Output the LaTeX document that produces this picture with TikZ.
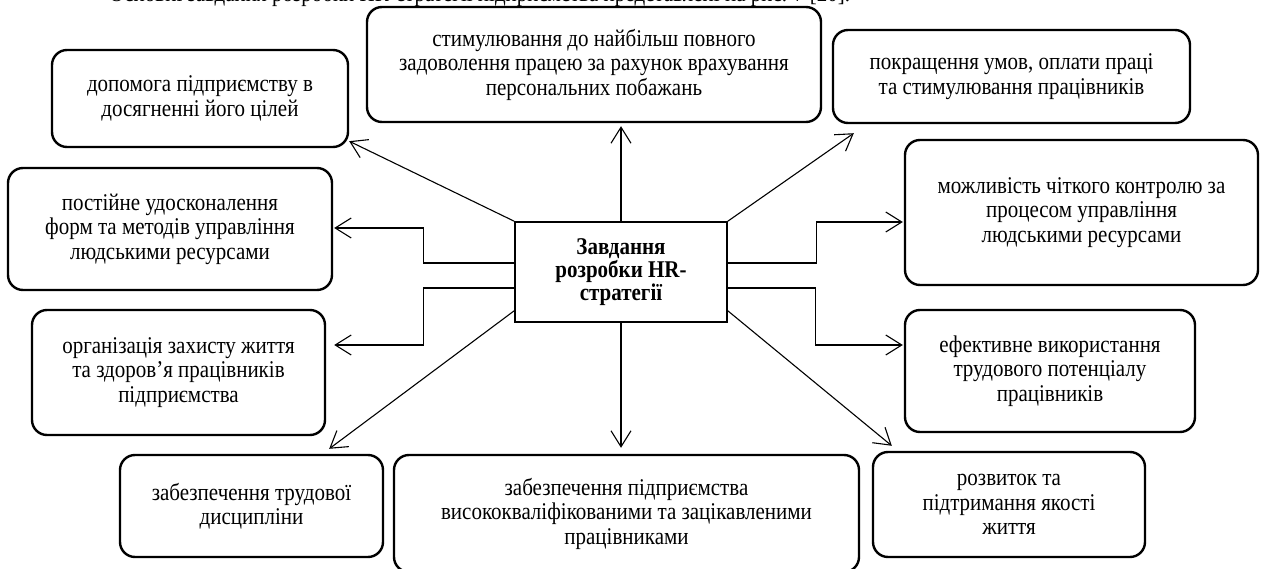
\documentclass[tikz,border=0pt]{standalone}
\usepackage{fontspec}
\setmainfont{Liberation Serif}[FakeStretch=0.875]
\usetikzlibrary{arrows.meta,calc}
\begin{document}
\begin{tikzpicture}[x=1pt,y=-1pt,
  box/.style={draw,line width=2.4pt,rounded corners=15pt,align=center,inner sep=0pt,font=\fontsize{24}{24.5}\selectfont},
  hubbox/.style={draw,line width=1.5pt,align=center,inner sep=0pt,font=\fontsize{24}{23}\selectfont\bfseries},
  conn/.style={line width=1.1pt,-{Straight Barb[length=16pt,width=20pt]}}]
\useasboundingbox[fill=white] (0,0) rectangle (1262,569);
\node[anchor=base west,inner sep=0pt,font=\fontsize{24}{24}\selectfont] (cap) at (109,1.5) {Основні завдання розробки HR-стратегії підприємства представлені на рис. 7 [20].};
\node[hubbox,minimum width=212pt,minimum height=100pt] (hub) at (621,272) {Завдання\\розробки HR-\\стратегії};
\node[box,minimum width=296pt,minimum height=97pt] (a) at (200,98.5) {допомога підприємству в\\досягненні його цілей};
\node[box,minimum width=454pt,minimum height=115pt] (b) at (594,64.5) {стимулювання до найбільш повного\\задоволення працею за рахунок врахування\\персональних побажань};
\node[box,minimum width=357pt,minimum height=93pt] (cc) at (1011.5,76.5) {покращення умов, оплати праці\\та стимулювання працівників};
\node[box,minimum width=324pt,minimum height=122pt] (d) at (170,229) {постійне удосконалення\\форм та методів управління\\людськими ресурсами};
\node[box,minimum width=353pt,minimum height=145pt] (e) at (1081.5,212.5) {можливість чіткого контролю за\\процесом управління\\людськими ресурсами};
\node[box,minimum width=293pt,minimum height=125pt] (f) at (178.5,372.5) {організація захисту життя\\та здоров’я працівників\\підприємства};
\node[box,minimum width=290pt,minimum height=122pt] (g) at (1050,371) {ефективне використання\\трудового потенціалу\\працівників};
\node[box,minimum width=263pt,minimum height=102pt] (h) at (251.5,506) {забезпечення трудової\\дисципліни};
\node[box,minimum width=465pt,minimum height=117pt] (i) at (626.5,513.5) {забезпечення підприємства\\висококваліфікованими та зацікавленими\\працівниками};
\node[box,minimum width=272pt,minimum height=105pt] (j) at (1009,504.5) {розвиток та\\підтримання якості\\життя};
\draw[conn] (hub.north west) -- ($(a.south east)+(0,-7)$);
\draw[conn] (hub.north) -- ($(hub.north |- b.south)+(0,3)$);
\draw[conn] (hub.north east) -- ($(cc.south west)+(22,9)$);
\draw[conn] ($(hub.west)+(0,-9)$) -- ++(-91,0) |- ($(d.east)+(1,-1)$);
\draw[conn] ($(hub.west)+(0,16)$) -- ++(-91,0) |- ($(f.east)+(8,-27.5)$);
\draw[conn] ($(hub.east)+(0,-9)$) -- ++(89,0) |- ($(e.west)+(-1,9.5)$);
\draw[conn] ($(hub.east)+(0,16)$) -- ++(88,0) |- ($(g.west)+(-1,-26)$);
\draw[conn] ($(hub.south west)+(0,-12)$) -- ($(h.north east)+(-55,-5)$);
\draw[conn] (hub.south) -- ($(hub.south |- i.north)+(0,-6)$);
\draw[conn] ($(hub.south east)+(0,-12)$) -- ($(j.north west)+(20,-5)$);
\end{tikzpicture}
\end{document}
